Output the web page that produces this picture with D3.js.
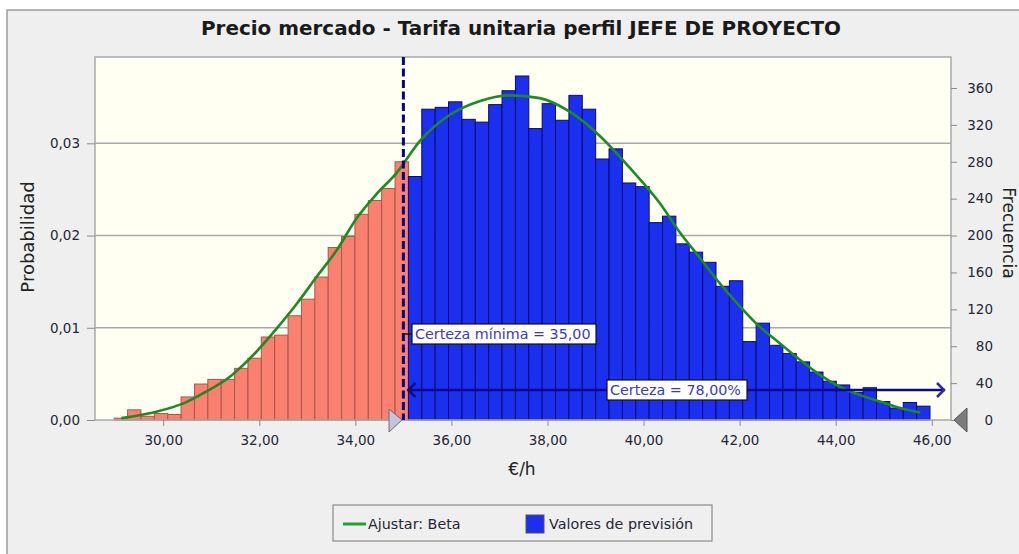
<!DOCTYPE html>
<html>
<head>
<meta charset="utf-8">
<script src="https://cdn.jsdelivr.net/npm/d3@7"></script>
<style>
  body { margin: 0; background: #fff; }
  svg { display: block; font-family: "DejaVu Sans", Verdana, sans-serif; }
</style>
</head>
<body>
<svg id="chart" width="1019" height="554"></svg>
<script>
// histogram: 61 bins of equal width, counts (10000 trials)
const binStart = 28.98;
const binWidth = 0.2784;
const counts = [2, 11, 4, 7, 6, 25, 39, 44, 44, 56, 67, 90, 92, 113, 131, 155, 187, 199, 223, 238, 251, 280,
  264, 337, 339, 345, 326, 323, 342, 357, 373, 316, 343, 325, 352, 337, 283, 294, 257, 253, 214, 221, 191,
  182, 171, 145, 151, 85, 105, 81, 72, 63, 52, 42, 38, 30, 35, 20, 13, 19, 15];
const trials = 10000;
const certaintyMin = 35;
const certainty = 78;

// fitted Beta curve, read point by point
const fitX = [29.13, 29.86, 30.42, 30.83, 31.39, 31.94, 32.36, 32.78, 33.19, 33.61, 34.03, 34.44, 34.86,
  35.35, 35.97, 36.60, 37.22, 37.84, 38.47, 39.09, 39.72, 40.34, 40.76, 41.17, 41.59, 42.01, 42.42,
  42.84, 43.26, 43.67, 44.09, 44.51, 44.92, 45.34, 45.76];
const fitP = [0.0002, 0.0009, 0.0018, 0.0029, 0.0047, 0.0074, 0.0099, 0.0126, 0.0155, 0.0184, 0.0219,
  0.0245, 0.0268, 0.0303, 0.0331, 0.0346, 0.0352, 0.0349, 0.0334, 0.0308, 0.0273, 0.0235, 0.0203,
  0.0176, 0.0148, 0.0123, 0.0101, 0.0083, 0.0065, 0.0049, 0.0036, 0.0027, 0.0020, 0.0013, 0.0008];

const xTicks = [30, 32, 34, 36, 38, 40, 42, 44, 46];
const probTicks = [0, 0.01, 0.02, 0.03];
const freqTicks = [0, 40, 80, 120, 160, 200, 240, 280, 320, 360];

const fmt = d3.formatLocale({decimal: ",", thousands: ".", grouping: [3], currency: ["", "€"]});
const f2 = fmt.format(".2f");

let svg = d3.select("#chart");
const L = 95, R = 951, T = 57, B = 420;
const txt = "#262636";

let x = d3.scaleLinear().domain([28.58, 46.40]).range([L, R]);
let yF = d3.scaleLinear().domain([0, 393.6]).range([B, T]);
let yP = d3.scaleLinear().domain([0, 393.6 / trials]).range([B, T]);

// frame
svg.append("rect").attr("x", 7).attr("y", 10).attr("width", 1030).attr("height", 560)
  .attr("fill", "#efefef").attr("stroke", "#9a9a9a").attr("stroke-width", 1.5);

svg.append("text").attr("x", 521).attr("y", 35).attr("text-anchor", "middle")
  .attr("font-size", 19).attr("font-weight", "bold").attr("fill", "#1a1a1a")
  .attr("textLength", 640).attr("lengthAdjust", "spacingAndGlyphs")
  .text("Precio mercado - Tarifa unitaria perfil JEFE DE PROYECTO");

svg.append("rect").attr("x", L).attr("y", T).attr("width", R - L).attr("height", B - T)
  .attr("fill", "#fffff2");

// grid
svg.append("g").selectAll("line").data(probTicks.slice(1)).join("line")
  .attr("x1", L).attr("x2", R).attr("y1", d => yP(d)).attr("y2", d => yP(d))
  .attr("stroke", "#a9a9a9").attr("stroke-width", 1.5);

// bars
let bins = counts.map((c, i) => ({lo: binStart + i * binWidth, hi: binStart + (i + 1) * binWidth, c: c}));
svg.append("g").selectAll("rect").data(bins).join("rect")
  .attr("x", d => x(d.lo)).attr("width", d => x(d.hi) - x(d.lo))
  .attr("y", d => yF(d.c)).attr("height", d => B - yF(d.c))
  .attr("fill", d => d.lo < certaintyMin ? "#fa8070" : "#1b30ee")
  .attr("stroke", d => d.lo < certaintyMin ? "#a8564c" : "#0c0c6a")
  .attr("stroke-width", 1);

svg.append("rect").attr("x", L).attr("y", T).attr("width", R - L).attr("height", B - T)
  .attr("fill", "none").attr("stroke", "#a9a9a9").attr("stroke-width", 1.5);

// fitted curve
let line = d3.line().x(d => x(d[0])).y(d => yP(d[1])).curve(d3.curveMonotoneX);
svg.append("path").attr("d", line(d3.zip(fitX, fitP)))
  .attr("fill", "none").attr("stroke", "#1f8a22").attr("stroke-width", 2.6);

// certainty marker
svg.append("line").attr("x1", x(certaintyMin)).attr("x2", x(certaintyMin)).attr("y1", T).attr("y2", B)
  .attr("stroke", "#00087a").attr("stroke-width", 3).attr("stroke-dasharray", "8,3.5");

function label(x0, yc, w, s) {
  svg.append("rect").attr("x", x0).attr("y", yc - 10).attr("width", w).attr("height", 20)
    .attr("fill", "#fff").attr("stroke", "#111").attr("stroke-width", 1.2);
  svg.append("text").attr("x", x0 + 3).attr("y", yc + 5).attr("font-size", 14.3)
    .attr("fill", "#3a3ac0").text(s);
}

svg.append("line").attr("x1", x(certaintyMin)).attr("x2", 413).attr("y1", 334).attr("y2", 334)
  .attr("stroke", "#111").attr("stroke-width", 1.5);
label(412, 334, 184, "Certeza mínima = " + f2(certaintyMin));

// certainty range arrow
const ay = 390;
const ax = x(certaintyMin);
svg.append("line").attr("x1", ax + 4).attr("x2", 945).attr("y1", ay).attr("y2", ay)
  .attr("stroke", "#0a0a8a").attr("stroke-width", 2.5);
svg.append("path").attr("d", `M${ax + 12},${ay - 7}L${ax + 5},${ay}L${ax + 12},${ay + 7}`)
  .attr("fill", "none").attr("stroke", "#0a0a8a").attr("stroke-width", 2.5);
svg.append("path").attr("d", `M937,${ay - 7}L944,${ay}L937,${ay + 7}`)
  .attr("fill", "none").attr("stroke", "#2a2aa8").attr("stroke-width", 2.5);
label(607, ay, 140, "Certeza = " + f2(certainty) + "%");

// axes
let gx = svg.append("g").attr("transform", `translate(0,${B})`)
  .call(d3.axisBottom(x).tickValues(xTicks).tickFormat(f2).tickSize(6).tickPadding(9));
let gl = svg.append("g").attr("transform", `translate(${L},0)`)
  .call(d3.axisLeft(yP).tickValues(probTicks).tickFormat(f2).tickSize(8).tickPadding(7));
let gr = svg.append("g").attr("transform", `translate(${R},0)`)
  .call(d3.axisRight(yF).tickValues(freqTicks).tickSize(6).tickPadding(0));
gr.selectAll("text").attr("text-anchor", "end").attr("x", 42);
[gx, gl, gr].forEach(g => {
  g.select(".domain").remove();
  g.selectAll("line").attr("stroke", "#8a8a8a");
  g.selectAll("text").attr("font-size", 13.5).attr("fill", txt)
    .attr("font-family", "DejaVu Sans, Verdana, sans-serif");
});

// sliders
svg.append("path").attr("d", `M389,409L402,420L389,432Z`)
  .attr("fill", "#c4c4dc").attr("stroke", "#6a6a7a").attr("stroke-width", 1);
svg.append("path").attr("d", `M967,408L954,420L967,432Z`)
  .attr("fill", "#7c7c7c").attr("stroke", "#555").attr("stroke-width", 1);

// axis titles
svg.append("text").attr("x", 522).attr("y", 475).attr("text-anchor", "middle")
  .attr("font-size", 17).attr("fill", "#222").text("€/h");
svg.append("text").attr("transform", "translate(34,237) rotate(-90)").attr("text-anchor", "middle")
  .attr("font-size", 18).attr("fill", "#222").text("Probabilidad");
svg.append("text").attr("transform", "translate(1003,233) rotate(90)").attr("text-anchor", "middle")
  .attr("font-size", 17).attr("fill", "#222").text("Frecuencia");

// legend
let lg = svg.append("g");
lg.append("rect").attr("x", 333).attr("y", 505).attr("width", 379).attr("height", 36)
  .attr("fill", "none").attr("stroke", "#8a8a8a").attr("stroke-width", 1.2);
lg.append("line").attr("x1", 343).attr("x2", 366).attr("y1", 524).attr("y2", 524)
  .attr("stroke", "#2e9a34").attr("stroke-width", 3);
lg.append("text").attr("x", 368).attr("y", 529).attr("font-size", 14.3).attr("fill", txt).text("Ajustar: Beta");
lg.append("rect").attr("x", 526).attr("y", 515).attr("width", 18).attr("height", 18)
  .attr("fill", "#1b30ee").attr("stroke", "#555").attr("stroke-width", 1);
lg.append("text").attr("x", 549).attr("y", 529).attr("font-size", 14.3).attr("fill", txt).text("Valores de previsión");
</script>
</body>
</html>
